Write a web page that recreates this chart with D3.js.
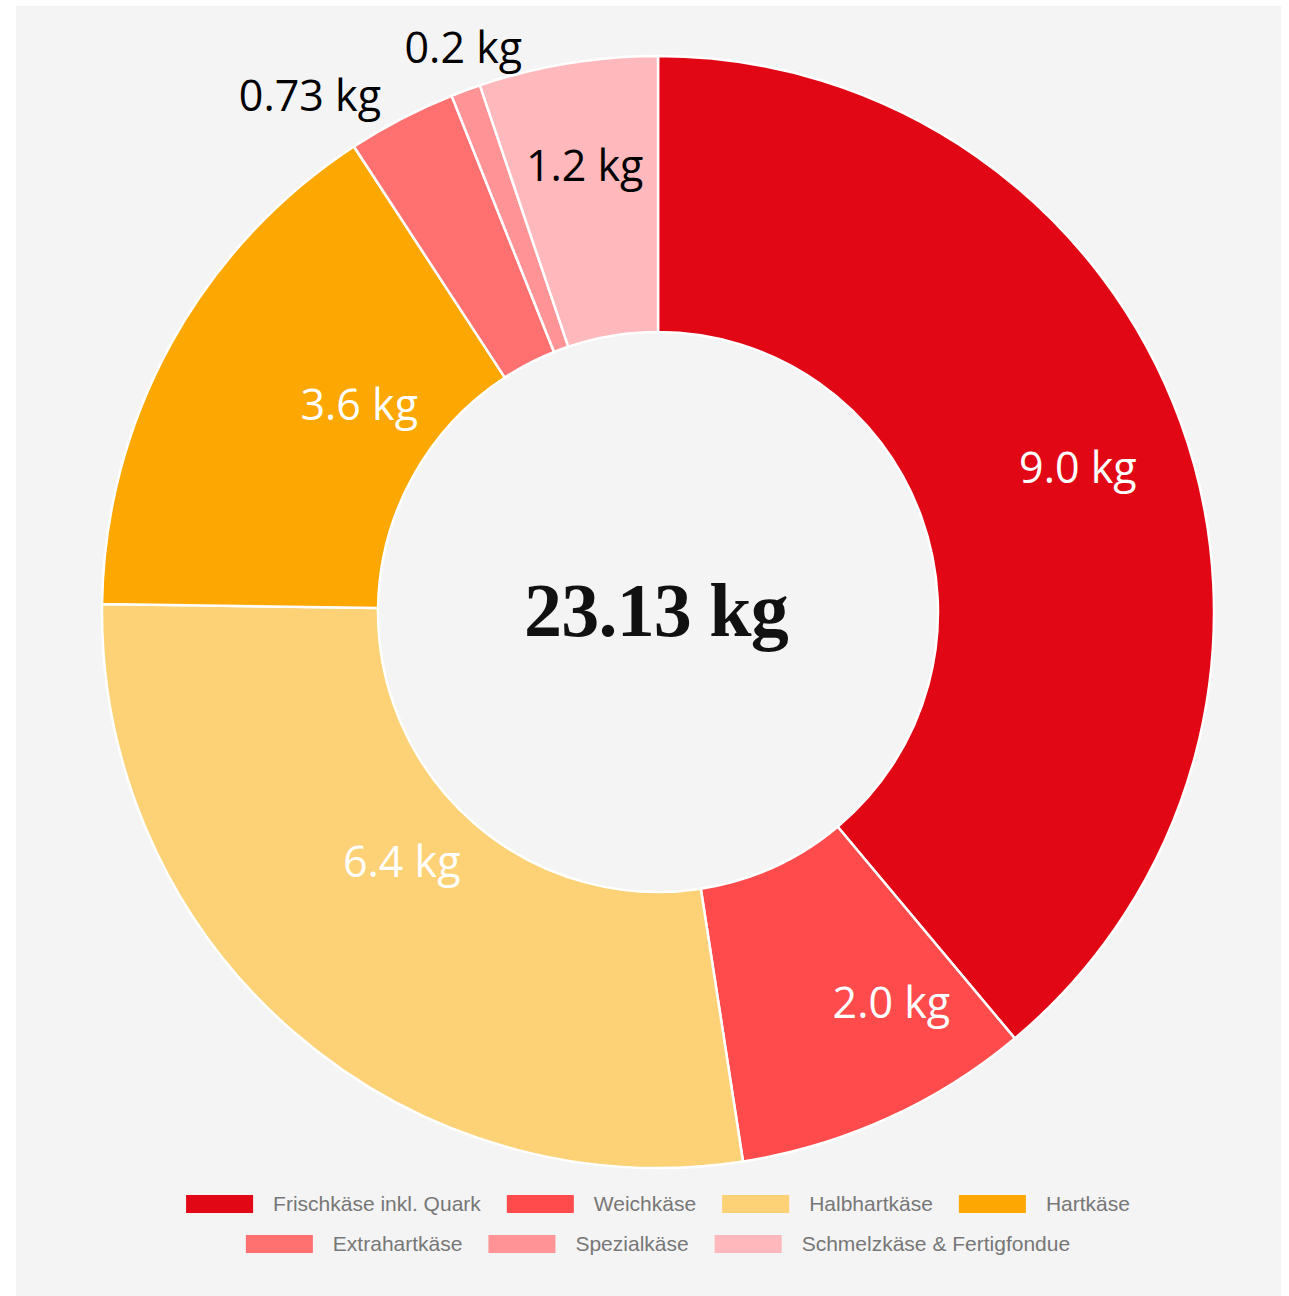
<!DOCTYPE html>
<html>
<head>
<meta charset="utf-8">
<script src="https://cdn.jsdelivr.net/npm/d3@7"></script>
<style>
  body { margin: 0; background: #ffffff; }
  svg { display: block; }
  .slice-label { font-family: "Open Sans", "Noto Sans", sans-serif; font-size: 43px; }
  .legend text { font-family: "Liberation Sans", Arial, sans-serif; font-size: 21px; fill: #777; }
</style>
</head>
<body>
<svg id="chart" width="1289" height="1296"></svg>
<script>
const categories = ["Frischkäse inkl. Quark", "Weichkäse", "Halbhartkäse", "Hartkäse",
                    "Extrahartkäse", "Spezialkäse", "Schmelzkäse & Fertigfondue"];
const values = [9.0, 2.0, 6.4, 3.6, 0.73, 0.2, 1.2];
const labels = ["9.0 kg", "2.0 kg", "6.4 kg", "3.6 kg", "0.73 kg", "0.2 kg", "1.2 kg"];
const colors = ["#e20714", "#ff4b4b", "#fdd276", "#fca702", "#ff7070", "#ff9395", "#ffb9bc"];
const totalLabel = "23.13 kg";

const width = 1289, height = 1296;
const cx = 658, cy = 612;
const outer = 556, inner = 280;

const svg = d3.select("#chart");

svg.append("rect")
    .attr("x", 16).attr("y", 6)
    .attr("width", 1265).attr("height", height - 6)
    .attr("fill", "#f4f4f4");

const pie = d3.pie().sort(null).value(d => d.value);
const arc = d3.arc().innerRadius(inner).outerRadius(outer);

const data = categories.map((c, i) => ({ name: c, value: values[i], label: labels[i], color: colors[i] }));
const arcs = pie(data);

const g = svg.append("g").attr("transform", `translate(${cx},${cy})`);

g.selectAll("path.slice")
    .data(arcs)
    .enter()
    .append("path")
    .attr("class", "slice")
    .attr("d", arc)
    .attr("fill", d => d.data.color)
    .attr("stroke", "#ffffff")
    .attr("stroke-width", 2.5);

// label placement: radius and small angle nudge (degrees) per slice
const labelPlace = [
    { r: 444, da: 1 },
    { r: 455, da: -6.5 },
    { r: 358, da: 4.7 },
    { r: 364, da: 6 },
    { r: 623, da: -6.5 },
    { r: 597, da: 1.2 },
    { r: 452, da: 0 }
];
const darkText = [false, false, false, false, true, true, true];

g.selectAll("text.slice-label")
    .data(arcs)
    .enter()
    .append("text")
    .attr("class", "slice-label")
    .attr("text-anchor", "middle")
    .attr("dy", "0.36em")
    .attr("x", (d, i) => {
        const a = (d.startAngle + d.endAngle) / 2 + labelPlace[i].da * Math.PI / 180;
        return labelPlace[i].r * Math.sin(a);
    })
    .attr("y", (d, i) => {
        const a = (d.startAngle + d.endAngle) / 2 + labelPlace[i].da * Math.PI / 180;
        return -labelPlace[i].r * Math.cos(a);
    })
    .attr("fill", (d, i) => darkText[i] ? "#000" : "#fff")
    .text(d => d.data.label);

g.append("text")
    .attr("text-anchor", "middle")
    .attr("x", -2)
    .attr("y", 24)
    .attr("font-family", "'Liberation Serif', 'Times New Roman', serif")
    .attr("font-weight", "bold")
    .attr("font-size", 76)
    .attr("letter-spacing", -0.8)
    .attr("fill", "#111")
    .text(totalLabel);

// legend, two centred rows
const rows = [[0, 1, 2, 3], [4, 5, 6]];
const swW = 67, swH = 18, gapText = 20, gapItem = 26;
const legend = svg.append("g").attr("class", "legend");

rows.forEach((row, ri) => {
    const y = 1204 + ri * 40;
    const rowG = legend.append("g");
    let x = 0;
    row.forEach(i => {
        const item = rowG.append("g").attr("transform", `translate(${x},${y})`);
        item.append("rect")
            .attr("x", 0).attr("y", -swH / 2)
            .attr("width", swW).attr("height", swH)
            .attr("fill", colors[i]);
        const t = item.append("text")
            .attr("x", swW + gapText)
            .attr("dy", "0.35em")
            .text(categories[i]);
        x += swW + gapText + t.node().getComputedTextLength() + gapItem;
    });
    const rowWidth = x - gapItem;
    rowG.attr("transform", `translate(${658 - rowWidth / 2},0)`);
});
</script>
</body>
</html>
